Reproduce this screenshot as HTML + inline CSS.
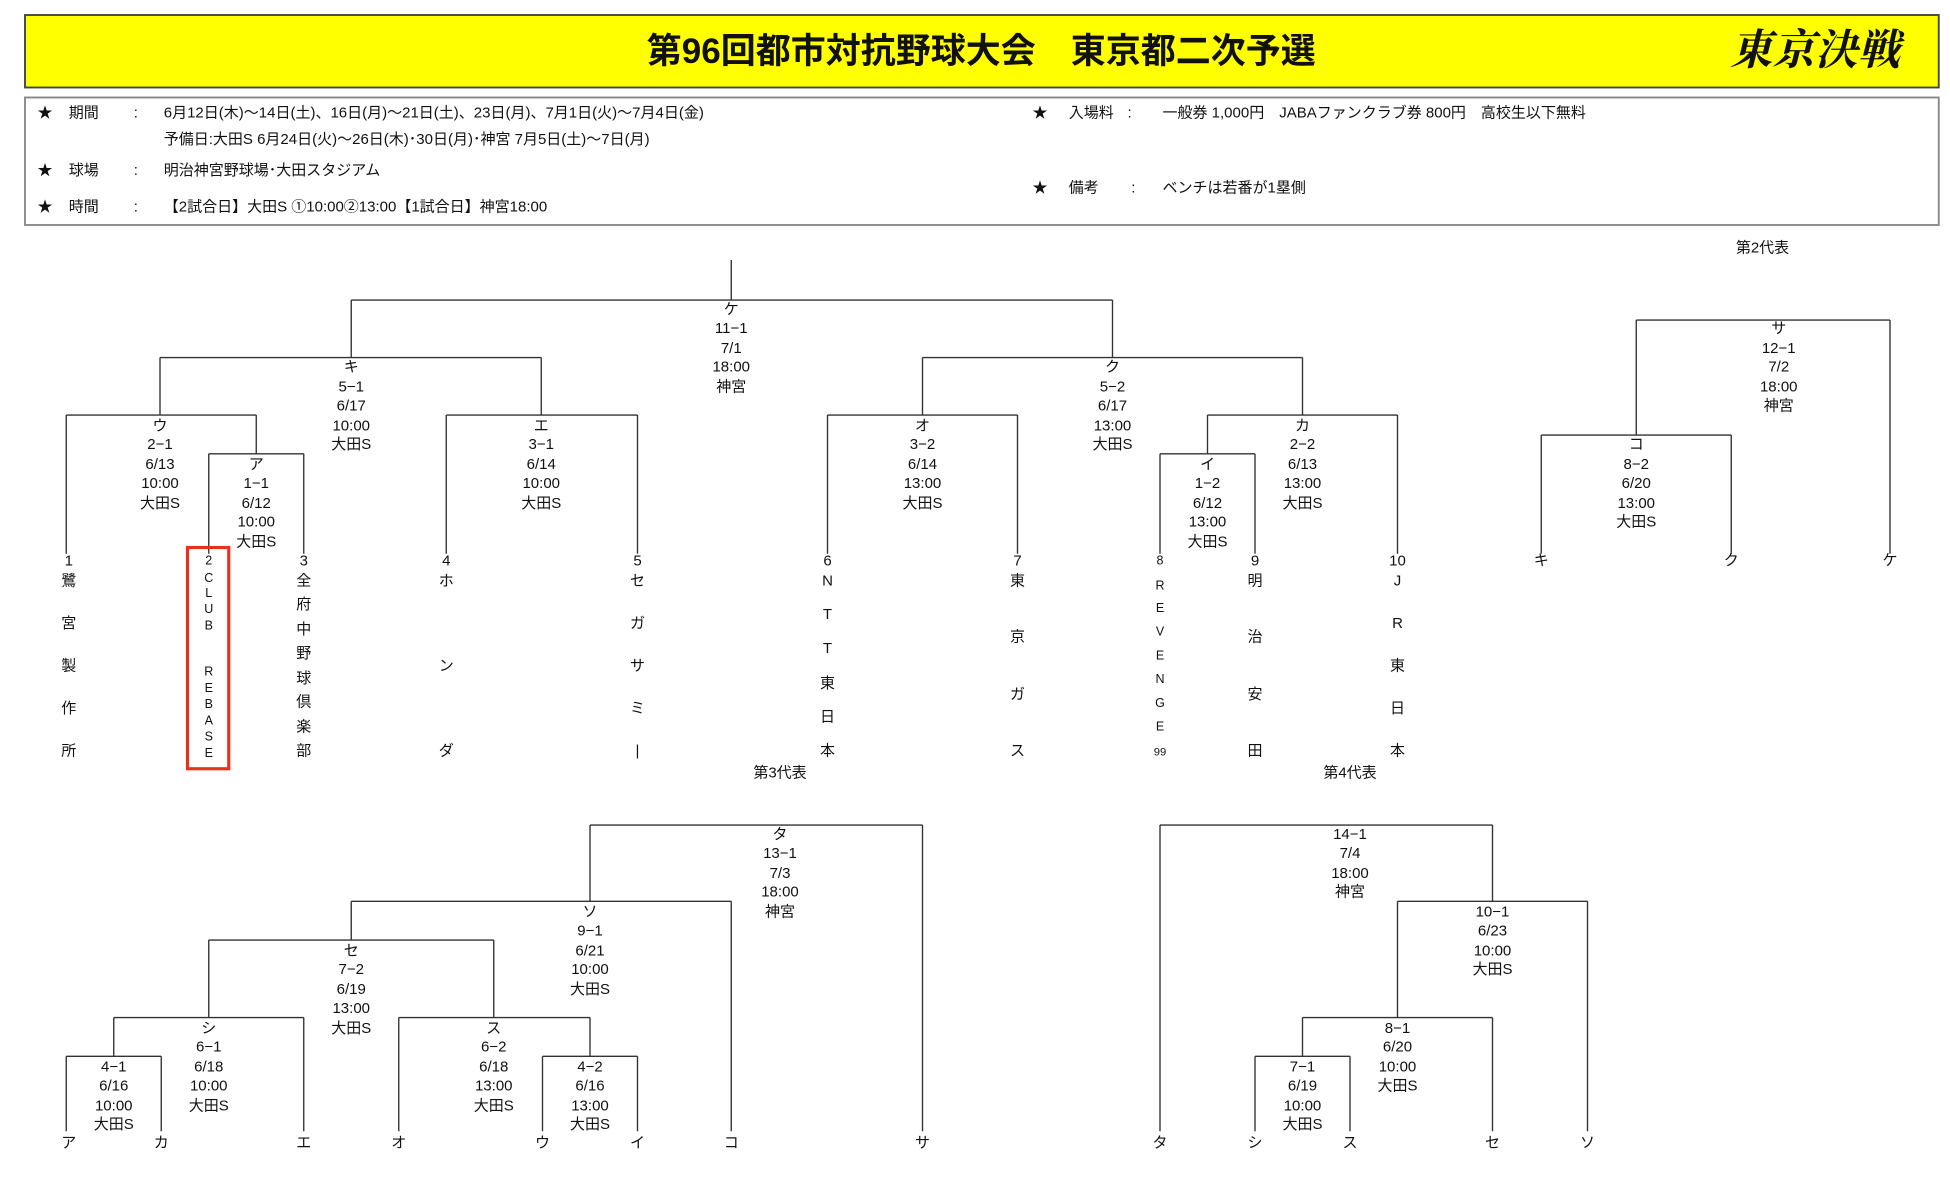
<!DOCTYPE html>
<html><head><meta charset="utf-8"><style>
html,body{margin:0;padding:0;background:#fff;}
svg{display:block;}
text{font-family:"Liberation Sans","Noto Sans CJK JP",sans-serif;fill:#111;}
.t{font-size:12px;text-anchor:middle;dominant-baseline:middle;}
.n{font-size:12.5px;text-anchor:middle;dominant-baseline:middle;}
.s{font-size:10px;text-anchor:middle;dominant-baseline:middle;}
.i{font-size:12px;dominant-baseline:middle;}
line{stroke:#333;stroke-width:1.1;}
</style></head><body>
<svg width="1950" height="1190" viewBox="0 0 1560 952" xmlns="http://www.w3.org/2000/svg">
<rect x="20" y="12" width="1531" height="58" fill="#ffff00" stroke="#444" stroke-width="1.5"/>
<text x="785" y="43" style="font-size:28px;font-weight:bold;text-anchor:middle;dominant-baseline:middle;">第96回都市対抗野球大会　東京都二次予選</text>
<text x="1452" y="43" style="font-size:34px;font-weight:bold;font-style:italic;text-anchor:middle;dominant-baseline:middle;font-family:'Noto Serif CJK SC','Noto Sans CJK JP',serif;">東京決戦</text>
<rect x="20" y="78" width="1531" height="102" fill="#fff" stroke="#888" stroke-width="1.5"/>
<g class="i">
<text class="i" x="30" y="91">★</text><text class="i" x="55" y="91">期間</text><text class="i" x="107" y="91">:</text><text class="i" x="131" y="91">6月12日(木)～14日(土)、16日(月)～21日(土)、23日(月)、7月1日(火)～7月4日(金)</text>
<text class="i" x="131" y="112">予備日:大田S 6月24日(火)～26日(木)･30日(月)･神宮 7月5日(土)～7日(月)</text>
<text class="i" x="30" y="137">★</text><text class="i" x="55" y="137">球場</text><text class="i" x="107" y="137">:</text><text class="i" x="131" y="137">明治神宮野球場･大田スタジアム</text>
<text class="i" x="30" y="166">★</text><text class="i" x="55" y="166">時間</text><text class="i" x="107" y="166">:</text><text class="i" x="131" y="166">【2試合日】大田S ①10:00②13:00【1試合日】神宮18:00</text>
<text class="i" x="826" y="91">★</text><text class="i" x="855" y="91">入場料</text><text class="i" x="902" y="91">:</text><text class="i" x="930" y="91">一般券 1,000円　JABAファンクラブ券 800円　高校生以下無料</text>
<text class="i" x="826" y="151">★</text><text class="i" x="855" y="151">備考</text><text class="i" x="905" y="151">:</text><text class="i" x="930" y="151">ベンチは若番が1塁側</text>
</g>

<!-- Main bracket lines -->
<line x1="585" y1="208" x2="585" y2="240"/>
<line x1="281" y1="240" x2="890" y2="240"/>
<line x1="281" y1="240" x2="281" y2="286"/>
<line x1="890" y1="240" x2="890" y2="286"/>
<line x1="128" y1="286" x2="433" y2="286"/>
<line x1="128" y1="286" x2="128" y2="332"/>
<line x1="433" y1="286" x2="433" y2="332"/>
<line x1="53" y1="332" x2="205" y2="332"/>
<line x1="205" y1="332" x2="205" y2="363"/>
<line x1="167" y1="363" x2="243" y2="363"/>
<line x1="53" y1="332" x2="53" y2="443"/>
<line x1="167" y1="363" x2="167" y2="443"/>
<line x1="243" y1="363" x2="243" y2="443"/>
<line x1="357" y1="332" x2="510" y2="332"/>
<line x1="357" y1="332" x2="357" y2="443"/>
<line x1="510" y1="332" x2="510" y2="443"/>
<line x1="738" y1="286" x2="1042" y2="286"/>
<line x1="738" y1="286" x2="738" y2="332"/>
<line x1="1042" y1="286" x2="1042" y2="332"/>
<line x1="662" y1="332" x2="814" y2="332"/>
<line x1="662" y1="332" x2="662" y2="443"/>
<line x1="814" y1="332" x2="814" y2="443"/>
<line x1="966" y1="332" x2="1118" y2="332"/>
<line x1="966" y1="332" x2="966" y2="363"/>
<line x1="928" y1="363" x2="1004" y2="363"/>
<line x1="928" y1="363" x2="928" y2="443"/>
<line x1="1004" y1="363" x2="1004" y2="443"/>
<line x1="1118" y1="332" x2="1118" y2="443"/>

<!-- main labels -->
<text class="t"><tspan x="585" y="248">ケ</tspan><tspan x="585" y="263">11−1</tspan><tspan x="585" y="279">7/1</tspan><tspan x="585" y="294">18:00</tspan><tspan x="585" y="310">神宮</tspan></text>
<text class="t"><tspan x="281" y="294">キ</tspan><tspan x="281" y="310">5−1</tspan><tspan x="281" y="325">6/17</tspan><tspan x="281" y="341">10:00</tspan><tspan x="281" y="356">大田S</tspan></text>
<text class="t"><tspan x="128" y="341">ウ</tspan><tspan x="128" y="356">2−1</tspan><tspan x="128" y="372">6/13</tspan><tspan x="128" y="387">10:00</tspan><tspan x="128" y="403">大田S</tspan></text>
<text class="t"><tspan x="205" y="372">ア</tspan><tspan x="205" y="387">1−1</tspan><tspan x="205" y="403">6/12</tspan><tspan x="205" y="418">10:00</tspan><tspan x="205" y="434">大田S</tspan></text>
<text class="t"><tspan x="433" y="341">エ</tspan><tspan x="433" y="356">3−1</tspan><tspan x="433" y="372">6/14</tspan><tspan x="433" y="387">10:00</tspan><tspan x="433" y="403">大田S</tspan></text>
<text class="t"><tspan x="890" y="294">ク</tspan><tspan x="890" y="310">5−2</tspan><tspan x="890" y="325">6/17</tspan><tspan x="890" y="341">13:00</tspan><tspan x="890" y="356">大田S</tspan></text>
<text class="t"><tspan x="738" y="341">オ</tspan><tspan x="738" y="356">3−2</tspan><tspan x="738" y="372">6/14</tspan><tspan x="738" y="387">13:00</tspan><tspan x="738" y="403">大田S</tspan></text>
<text class="t"><tspan x="1042" y="341">カ</tspan><tspan x="1042" y="356">2−2</tspan><tspan x="1042" y="372">6/13</tspan><tspan x="1042" y="387">13:00</tspan><tspan x="1042" y="403">大田S</tspan></text>
<text class="t"><tspan x="966" y="372">イ</tspan><tspan x="966" y="387">1−2</tspan><tspan x="966" y="403">6/12</tspan><tspan x="966" y="418">13:00</tspan><tspan x="966" y="434">大田S</tspan></text>

<!-- leaves -->
<text class="t"><tspan x="55" y="449">1</tspan><tspan x="55" y="465">鷺</tspan><tspan x="55" y="499">宮</tspan><tspan x="55" y="533">製</tspan><tspan x="55" y="567">作</tspan><tspan x="55" y="601">所</tspan></text>
<rect x="150" y="438" width="33" height="177" fill="none" stroke="#e8311a" stroke-width="2.5"/>
<text class="s"><tspan x="167" y="449">2</tspan><tspan x="167" y="463">C</tspan><tspan x="167" y="475">L</tspan><tspan x="167" y="488">U</tspan><tspan x="167" y="501">B</tspan><tspan x="167" y="538">R</tspan><tspan x="167" y="551">E</tspan><tspan x="167" y="564">B</tspan><tspan x="167" y="577">A</tspan><tspan x="167" y="590">S</tspan><tspan x="167" y="603">E</tspan></text>
<text class="t"><tspan x="243" y="449">3</tspan><tspan x="243" y="465">全</tspan><tspan x="243" y="484">府</tspan><tspan x="243" y="504">中</tspan><tspan x="243" y="523">野</tspan><tspan x="243" y="543">球</tspan><tspan x="243" y="562">倶</tspan><tspan x="243" y="582">楽</tspan><tspan x="243" y="601">部</tspan></text>
<text class="t"><tspan x="357" y="449">4</tspan><tspan x="357" y="465">ホ</tspan><tspan x="357" y="533">ン</tspan><tspan x="357" y="601">ダ</tspan></text>
<text class="t"><tspan x="510" y="449">5</tspan><tspan x="510" y="465">セ</tspan><tspan x="510" y="499">ガ</tspan><tspan x="510" y="533">サ</tspan><tspan x="510" y="567">ミ</tspan><tspan x="510" y="601">|</tspan></text>
<text class="t"><tspan x="662" y="449">6</tspan><tspan x="662" y="465">N</tspan><tspan x="662" y="492">T</tspan><tspan x="662" y="519">T</tspan><tspan x="662" y="547">東</tspan><tspan x="662" y="574">日</tspan><tspan x="662" y="601">本</tspan></text>
<text class="t"><tspan x="814" y="449">7</tspan><tspan x="814" y="465">東</tspan><tspan x="814" y="510">京</tspan><tspan x="814" y="556">ガ</tspan><tspan x="814" y="601">ス</tspan></text>
<text class="s"><tspan x="928" y="449">8</tspan><tspan x="928" y="469">R</tspan><tspan x="928" y="487">E</tspan><tspan x="928" y="506">V</tspan><tspan x="928" y="525">E</tspan><tspan x="928" y="544">N</tspan><tspan x="928" y="563">G</tspan><tspan x="928" y="582">E</tspan><tspan x="928" y="602" style="font-size:9px">99</tspan></text>
<text class="t"><tspan x="1004" y="449">9</tspan><tspan x="1004" y="465">明</tspan><tspan x="1004" y="510">治</tspan><tspan x="1004" y="556">安</tspan><tspan x="1004" y="601">田</tspan></text>
<text class="t"><tspan x="1118" y="449">10</tspan><tspan x="1118" y="465">J</tspan><tspan x="1118" y="499">R</tspan><tspan x="1118" y="533">東</tspan><tspan x="1118" y="567">日</tspan><tspan x="1118" y="601">本</tspan></text>

<!-- 第2代表 -->
<text class="t" x="1410" y="199">第2代表</text>
<line x1="1309" y1="256" x2="1512" y2="256"/>
<line x1="1309" y1="256" x2="1309" y2="348"/>
<line x1="1512" y1="256" x2="1512" y2="443"/>
<line x1="1233" y1="348" x2="1385" y2="348"/>
<line x1="1233" y1="348" x2="1233" y2="443"/>
<line x1="1385" y1="348" x2="1385" y2="443"/>
<text class="t"><tspan x="1423" y="263">サ</tspan><tspan x="1423" y="279">12−1</tspan><tspan x="1423" y="294">7/2</tspan><tspan x="1423" y="310">18:00</tspan><tspan x="1423" y="325">神宮</tspan></text>
<text class="t"><tspan x="1309" y="356">コ</tspan><tspan x="1309" y="372">8−2</tspan><tspan x="1309" y="387">6/20</tspan><tspan x="1309" y="403">13:00</tspan><tspan x="1309" y="418">大田S</tspan></text>
<text class="t" x="1233" y="449">キ</text><text class="t" x="1385" y="449">ク</text><text class="t" x="1512" y="449">ケ</text>

<!-- 第3代表 -->
<text class="t" x="624" y="619">第3代表</text>
<line x1="472" y1="660" x2="738" y2="660"/>
<line x1="472" y1="660" x2="472" y2="721"/>
<line x1="738" y1="660" x2="738" y2="905"/>
<line x1="281" y1="721" x2="585" y2="721"/>
<line x1="281" y1="721" x2="281" y2="752"/>
<line x1="585" y1="721" x2="585" y2="905"/>
<line x1="167" y1="752" x2="395" y2="752"/>
<line x1="167" y1="752" x2="167" y2="814"/>
<line x1="395" y1="752" x2="395" y2="814"/>
<line x1="91" y1="814" x2="243" y2="814"/>
<line x1="91" y1="814" x2="91" y2="845"/>
<line x1="243" y1="814" x2="243" y2="905"/>
<line x1="53" y1="845" x2="129" y2="845"/>
<line x1="53" y1="845" x2="53" y2="905"/>
<line x1="129" y1="845" x2="129" y2="905"/>
<line x1="319" y1="814" x2="472" y2="814"/>
<line x1="319" y1="814" x2="319" y2="905"/>
<line x1="472" y1="814" x2="472" y2="845"/>
<line x1="434" y1="845" x2="510" y2="845"/>
<line x1="434" y1="845" x2="434" y2="905"/>
<line x1="510" y1="845" x2="510" y2="905"/>
<text class="t"><tspan x="624" y="668">タ</tspan><tspan x="624" y="683">13−1</tspan><tspan x="624" y="699">7/3</tspan><tspan x="624" y="714">18:00</tspan><tspan x="624" y="730">神宮</tspan></text>
<text class="t"><tspan x="472" y="730">ソ</tspan><tspan x="472" y="745">9−1</tspan><tspan x="472" y="761">6/21</tspan><tspan x="472" y="776">10:00</tspan><tspan x="472" y="792">大田S</tspan></text>
<text class="t"><tspan x="281" y="761">セ</tspan><tspan x="281" y="776">7−2</tspan><tspan x="281" y="792">6/19</tspan><tspan x="281" y="807">13:00</tspan><tspan x="281" y="823">大田S</tspan></text>
<text class="t"><tspan x="167" y="823">シ</tspan><tspan x="167" y="838">6−1</tspan><tspan x="167" y="854">6/18</tspan><tspan x="167" y="869">10:00</tspan><tspan x="167" y="885">大田S</tspan></text>
<text class="t"><tspan x="91" y="854">4−1</tspan><tspan x="91" y="869">6/16</tspan><tspan x="91" y="885">10:00</tspan><tspan x="91" y="900">大田S</tspan></text>
<text class="t"><tspan x="395" y="823">ス</tspan><tspan x="395" y="838">6−2</tspan><tspan x="395" y="854">6/18</tspan><tspan x="395" y="869">13:00</tspan><tspan x="395" y="885">大田S</tspan></text>
<text class="t"><tspan x="472" y="854">4−2</tspan><tspan x="472" y="869">6/16</tspan><tspan x="472" y="885">13:00</tspan><tspan x="472" y="900">大田S</tspan></text>
<text class="t" x="55" y="915">ア</text><text class="t" x="129" y="915">カ</text><text class="t" x="243" y="915">エ</text><text class="t" x="319" y="915">オ</text><text class="t" x="434" y="915">ウ</text><text class="t" x="510" y="915">イ</text><text class="t" x="585" y="915">コ</text><text class="t" x="738" y="915">サ</text>

<!-- 第4代表 -->
<text class="t" x="1080" y="619">第4代表</text>
<line x1="928" y1="660" x2="1194" y2="660"/>
<line x1="928" y1="660" x2="928" y2="905"/>
<line x1="1194" y1="660" x2="1194" y2="721"/>
<line x1="1118" y1="721" x2="1270" y2="721"/>
<line x1="1118" y1="721" x2="1118" y2="814"/>
<line x1="1270" y1="721" x2="1270" y2="905"/>
<line x1="1042" y1="814" x2="1194" y2="814"/>
<line x1="1042" y1="814" x2="1042" y2="845"/>
<line x1="1194" y1="814" x2="1194" y2="905"/>
<line x1="1004" y1="845" x2="1080" y2="845"/>
<line x1="1004" y1="845" x2="1004" y2="905"/>
<line x1="1080" y1="845" x2="1080" y2="905"/>
<text class="t"><tspan x="1080" y="668">14−1</tspan><tspan x="1080" y="683">7/4</tspan><tspan x="1080" y="699">18:00</tspan><tspan x="1080" y="714">神宮</tspan></text>
<text class="t"><tspan x="1194" y="730">10−1</tspan><tspan x="1194" y="745">6/23</tspan><tspan x="1194" y="761">10:00</tspan><tspan x="1194" y="776">大田S</tspan></text>
<text class="t"><tspan x="1118" y="823">8−1</tspan><tspan x="1118" y="838">6/20</tspan><tspan x="1118" y="854">10:00</tspan><tspan x="1118" y="869">大田S</tspan></text>
<text class="t"><tspan x="1042" y="854">7−1</tspan><tspan x="1042" y="869">6/19</tspan><tspan x="1042" y="885">10:00</tspan><tspan x="1042" y="900">大田S</tspan></text>
<text class="t" x="928" y="915">タ</text><text class="t" x="1004" y="915">シ</text><text class="t" x="1080" y="915">ス</text><text class="t" x="1194" y="915">セ</text><text class="t" x="1270" y="915">ソ</text>
</svg>
</body></html>
